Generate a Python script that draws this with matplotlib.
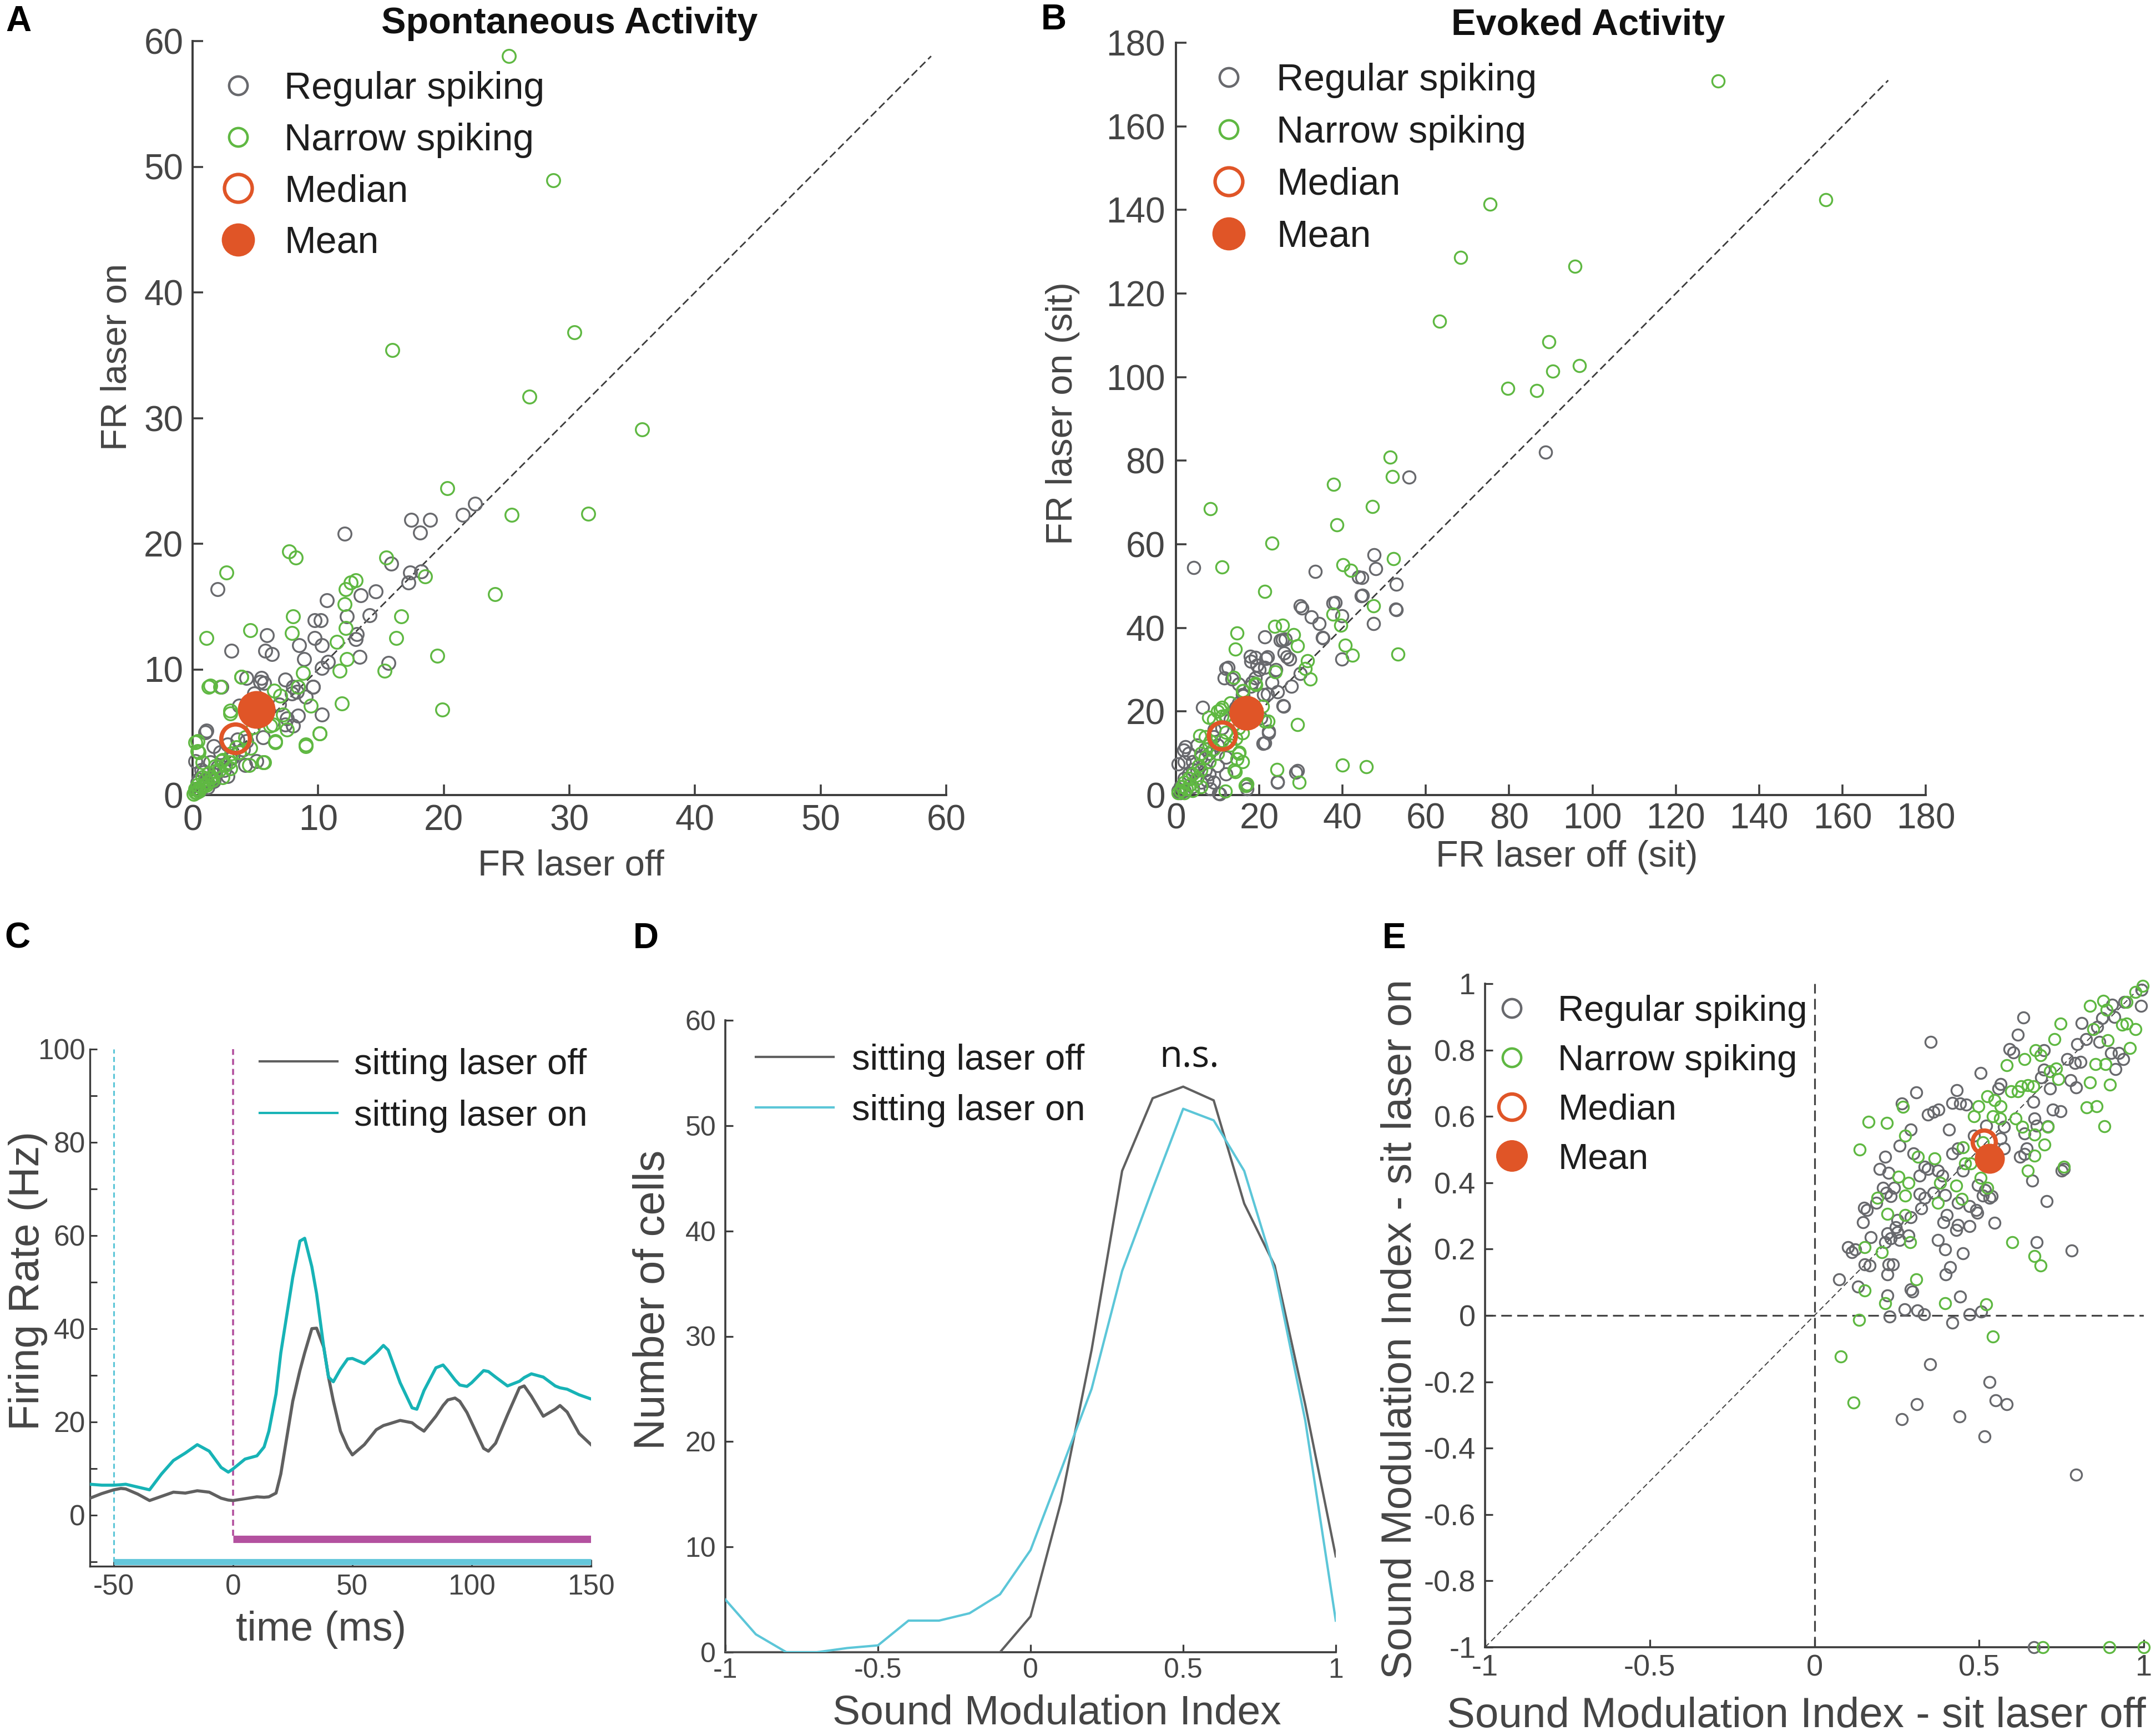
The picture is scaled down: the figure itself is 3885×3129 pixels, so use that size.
import numpy as np
import matplotlib
matplotlib.use("Agg")
import matplotlib.pyplot as plt
from matplotlib.lines import Line2D
from matplotlib.ticker import FuncFormatter

W, H = 3885, 3129

# --- A: spontaneous activity (laser off, laser on) ---
spont_rs = [(12.1, 20.8), (2.0, 16.4), (3.1, 11.5), (17.4, 21.9), (18.9, 21.9), (18.1, 20.9), (21.5, 22.3),
            (22.5, 23.2), (15.8, 18.4), (17.3, 17.7), (17.2, 16.9), (18.2, 17.8), (10.7, 15.5), (13.4, 15.9),
            (14.6, 16.2), (12.3, 14.2), (14.1, 14.3), (15.6, 10.5), (9.7, 13.9), (10.2, 13.9), (5.9, 12.7),
            (5.8, 11.5), (6.3, 11.2), (8.5, 11.9), (9.7, 12.5), (10.3, 11.9), (13.0, 12.4), (13.1, 12.8),
            (13.3, 11.0), (10.8, 10.6), (9.6, 8.6), (10.3, 10.1), (8.9, 10.8), (7.9, 8.1), (7.4, 9.2),
            (5.4, 9.0), (4.9, 8.1), (1.0, 5.0), (6.9, 7.2), (8.4, 6.3), (10.3, 6.4), (4.3, 4.3), (3.7, 7.1),
            (7.4, 5.6), (1.1, 5.1), (2.3, 8.6), (4.3, 9.3), (5.5, 9.3), (5.7, 8.9), (8.0, 8.6), (8.3, 8.2),
            (9.6, 8.6), (9.0, 7.8), (8.0, 5.5), (7.5, 6.1), (5.6, 4.6), (5.1, 2.7), (4.2, 2.4), (3.0, 2.9),
            (1.7, 3.9), (0.2, 2.7), (0.9, 1.8), (2.8, 1.5), (1.7, 1.1), (0.5, 1.25), (0.3, 0.5), (0.6, 0.4),
            (1.0, 1.2), (1.5, 1.3), (2.0, 2.2), (2.5, 2.0), (0.4, 1.0), (1.2, 0.6), (1.8, 1.6), (2.2, 3.4),
            (3.2, 3.0), (3.6, 4.4), (4.0, 3.6), (2.8, 4.0), (1.4, 2.6), (0.7, 2.0)]
spont_ns = [(25.2, 58.8), (28.7, 48.9), (30.4, 36.8), (15.9, 35.4), (26.8, 31.7), (35.8, 29.1), (20.3, 24.4),
            (25.4, 22.3), (31.5, 22.4), (24.1, 16.0), (19.5, 11.1), (19.9, 6.8), (15.4, 18.9), (18.5, 17.4),
            (16.6, 14.2), (16.2, 12.5), (15.3, 9.9), (11.7, 9.9), (11.9, 7.3), (10.1, 4.9), (9.0, 3.9),
            (7.7, 19.4), (8.2, 18.9), (2.7, 17.7), (1.1, 12.5), (4.6, 13.1), (8.0, 14.2), (7.9, 12.9),
            (1.3, 8.6), (2.2, 8.6), (3.9, 9.4), (12.2, 16.4), (12.6, 16.9), (13.0, 17.1), (12.1, 15.2),
            (12.2, 13.3), (12.3, 10.8), (11.5, 12.2), (8.8, 9.7), (8.4, 8.6), (6.4, 5.6), (5.7, 2.6),
            (0.2, 4.2), (0.5, 3.4), (3.0, 6.5), (4.8, 5.4), (6.6, 4.2), (1.4, 8.7), (3.9, 9.4), (0.4, 4.3),
            (0.4, 3.5), (3.0, 6.7), (5.6, 2.6), (6.6, 4.3), (7.5, 5.2), (9.0, 4.0), (10.1, 4.9), (9.4, 7.1),
            (7.0, 7.9), (6.5, 8.3), (4.5, 2.4), (3.7, 3.4), (2.4, 1.4), (0.8, 2.6), (1.8, 2.3), (3.0, 2.1),
            (0.5, 0.5), (0.2, 0.2), (1.1, 0.8), (0.8, 1.4), (2.3, 2.7), (5.5, 6.1), (6.2, 5.5), (7.2, 6.4),
            (4.6, 3.75), (0.1, 0.1), (0.3, 0.2), (0.5, 0.3), (0.7, 0.6), (0.9, 0.8), (1.2, 1.0), (1.5, 1.4),
            (1.8, 1.9), (2.1, 2.0), (2.6, 2.4), (0.2, 0.5), (0.4, 0.8), (1.0, 1.3), (1.6, 1.2), (2.4, 2.8),
            (3.1, 3.3), (3.5, 3.8), (4.2, 4.6), (2.9, 2.6), (1.3, 1.7)]
spont_median = (3.4, 4.5)
spont_mean = (5.1, 6.8)
spont_diag_max = 58.8

# --- B: evoked activity (sit, laser off / on) ---
evoked_rs = [(88.7, 82.0), (55.9, 76.1), (4.3, 54.4), (33.5, 53.5), (47.6, 57.5), (47.9, 54.1), (44.6, 52.1),
             (52.9, 50.5), (44.8, 47.8), (52.9, 44.4), (47.4, 41.0), (29.9, 45.3), (30.3, 44.7), (32.5, 42.6),
             (34.4, 41.0), (38.2, 46.0), (39.9, 42.9), (39.8, 32.5), (35.3, 37.6), (21.3, 37.8), (25.6, 37.2),
             (27.3, 32.5), (29.9, 29.1), (27.7, 26.0), (25.9, 21.2), (22.3, 15.3), (21.3, 12.5), (29.2, 5.8),
             (24.4, 3.1), (6.4, 21.0), (17.0, 1.4), (10.5, 0.3), (12.5, 30.5), (13.5, 27.7), (17.8, 33.2),
             (19.5, 31.1), (21.3, 30.5), (16.1, 23.7), (14.4, 21.0), (2.2, 11.5), (0.5, 7.4), (4.0, 6.1),
             (7.4, 3.4), (9.2, 15.6), (8.3, 1.4), (37.7, 45.9), (43.8, 52.2), (44.5, 47.7), (52.7, 44.5),
             (35.2, 37.7), (26.2, 37.3), (26.6, 33.1), (21.6, 32.6), (19.1, 32.9), (12.0, 30.3), (11.6, 28.0),
             (15.1, 26.5), (18.2, 27.0), (22.0, 24.2), (24.4, 24.7), (25.7, 21.4), (20.4, 18.4), (22.2, 14.9),
             (20.9, 12.3), (1.9, 10.7), (28.8, 5.5), (24.4, 3.2), (16.9, 2.3), (10.3, 0.4), (1, 2), (2, 4),
             (3, 5), (4, 8), (5, 6), (6, 9), (7, 11), (8, 10), (9, 14), (10, 12), (11, 16), (3, 10), (2, 8),
             (5, 12), (6, 3), (8, 5), (10, 7), (12, 9), (13, 18), (14, 20), (15, 22), (16, 24), (18, 26),
             (19, 28), (20, 30), (22, 33), (23, 27), (17, 19), (21, 24), (24, 30), (26, 34), (25, 37), (18, 32),
             (4, 2), (1, 0.5), (0.5, 1), (2, 1), (7, 6), (9, 3), (12, 5)]
evoked_ns = [(130.2, 170.9), (156.0, 142.5), (75.4, 141.4), (68.3, 128.6), (95.8, 126.5), (63.3, 113.3),
             (89.6, 108.5), (90.4, 101.4), (96.8, 102.7), (79.7, 97.3), (86.6, 96.8), (51.4, 80.8), (52.0, 76.2),
             (37.9, 74.4), (8.3, 68.5), (47.2, 69.0), (38.7, 64.7), (23.0, 60.2), (11.1, 54.5), (52.2, 56.6),
             (40.1, 55.1), (42.0, 53.7), (21.3, 48.7), (14.7, 38.7), (14.3, 34.9), (47.4, 45.3), (37.7, 43.3),
             (39.6, 40.6), (40.6, 35.9), (42.4, 33.4), (53.3, 33.7), (23.7, 40.3), (25.6, 40.6), (28.2, 38.3),
             (29.2, 35.7), (31.6, 32.1), (32.2, 27.7), (23.9, 29.5), (29.2, 16.9), (24.2, 6.1), (29.6, 3.0),
             (40.0, 7.2), (45.7, 6.8), (11.8, 0.9), (17.0, 2.7), (15.2, 10.2), (14.4, 13.5), (8.3, 12.9),
             (5.7, 14.2), (11.0, 18.9), (16.1, 25.0), (19.2, 26.4), (20.8, 21.2), (22.1, 17.6), (13.8, 28.1),
             (19.1, 26.7), (16.0, 24.9), (21.3, 17.6), (16.0, 14.9), (7.8, 18.6), (10.6, 20.5), (14.3, 5.6),
             (14.7, 8.6), (16.7, 2.3), (31.0, 30.2), (0.5, 0.5), (1, 1), (1.5, 2), (2, 3), (2.5, 1.5), (3, 4),
             (3.5, 2.5), (4, 5), (5, 4), (5.5, 7), (6, 6), (7, 9), (8, 8), (9, 11), (10, 10), (11, 13), (12, 15),
             (13, 12), (14, 17), (15, 16), (16, 19), (9, 18), (10, 20), (11, 21), (7, 14), (8, 12), (6, 10),
             (12, 19), (13, 22), (15, 10), (16, 8), (14, 6), (4, 1), (6, 2), (2, 0.5)]
evoked_median = (11.1, 14.2)
evoked_mean = (16.9, 19.6)
evoked_diag_max = 171.0

# --- C: PSTH, sitting ---
psth_time = [-60, -55, -50, -47, -45, -40, -35, -30, -25, -20, -15, -10, -5, -2, 0, 5, 10, 13, 15, 18, 20, 25,
             28, 30, 33, 35, 38, 40, 42, 45, 48, 50, 55, 60, 63, 65, 70, 75, 77, 80, 85, 88, 90, 93, 95, 98,
             100, 105, 107, 110, 115, 120, 122, 125, 130, 135, 137, 140, 145, 150]
psth_laser_off = [3.6, 4.6, 5.4, 5.7, 5.6, 4.5, 3.1, 4.0, 4.9, 4.7, 5.2, 4.9, 3.6, 3.2, 3.1, 3.5, 3.9, 3.8,
                  3.9, 4.7, 8.8, 24.4, 31.0, 34.8, 40.0, 40.1, 36.0, 29.6, 24.5, 18.0, 14.5, 12.9, 15.1, 18.3,
                  19.2, 19.5, 20.3, 19.8, 19.0, 18.0, 21.2, 23.5, 24.7, 25.1, 24.4, 22.0, 19.8, 14.3, 13.7,
                  15.4, 21.5, 27.3, 27.7, 25.5, 21.2, 22.7, 23.5, 22.1, 17.5, 15.1]
psth_laser_on = [6.6, 6.4, 6.4, 6.5, 6.6, 6.0, 5.4, 8.8, 11.7, 13.3, 15.1, 13.7, 10.2, 9.2, 9.9, 12.0, 12.7,
                 14.6, 18.0, 26.0, 34.8, 51.0, 58.8, 59.4, 53.3, 47.5, 36.0, 29.6, 28.6, 31.3, 33.5, 33.6,
                 32.5, 34.8, 36.4, 35.4, 28.4, 23.0, 22.7, 26.7, 31.6, 32.2, 31.0, 29.0, 27.9, 27.6, 28.4,
                 31.0, 30.8, 29.6, 27.7, 28.7, 29.5, 30.3, 29.6, 27.7, 27.3, 27.0, 25.8, 24.9]
laser_onset = -50
sound_onset = 0

# --- D: sound modulation index histogram ---
smi_bins = [-1.0, -0.9, -0.8, -0.7, -0.6, -0.5, -0.4, -0.3, -0.2, -0.1, 0.0, 0.1, 0.2, 0.3, 0.4, 0.5, 0.6,
            0.7, 0.8, 0.9, 1.0]
smi_count_off = [0, 0, 0, 0, 0, 0, 0, 0, 0, 0, 3.4, 14.3, 28.7, 45.7, 52.6, 53.7, 52.4, 42.6, 36.7, 23.5, 9.1]
smi_count_on = [5.0, 1.7, 0, 0, 0.4, 0.65, 3.0, 3.0, 3.7, 5.5, 9.7, 17.3, 25.0, 36.2, 44.0, 51.6, 50.5, 45.7,
                36.2, 22.0, 3.0]

# --- E: sound modulation index, laser off vs on ---
smi_rs = [(0.634, 0.898), (0.617, 0.846), (0.353, 0.824), (0.505, 0.731), (0.310, 0.672), (0.433, 0.679),
          (0.266, 0.639), (0.344, 0.605), (0.361, 0.613), (0.377, 0.620), (0.419, 0.640), (0.443, 0.639),
          (0.460, 0.635), (0.593, 0.803), (0.604, 0.792), (0.696, 0.799), (0.812, 0.881), (0.859, 0.870),
          (0.904, 0.937), (0.941, 0.944), (0.992, 0.933), (0.993, 0.981), (0.911, 0.899), (0.873, 0.896),
          (0.798, 0.817), (0.825, 0.832), (0.866, 0.825), (0.767, 0.772), (0.791, 0.761), (0.808, 0.765),
          (0.900, 0.791), (0.924, 0.791), (0.938, 0.772), (0.914, 0.743), (0.778, 0.709), (0.795, 0.687),
          (0.716, 0.684), (0.689, 0.717), (0.696, 0.740), (0.723, 0.620), (0.747, 0.616), (0.664, 0.643),
          (0.668, 0.594), (0.675, 0.572), (0.638, 0.549), (0.645, 0.504), (0.638, 0.486), (0.624, 0.478),
          (0.575, 0.568), (0.566, 0.534), (0.575, 0.504), (0.559, 0.684), (0.566, 0.698), (0.522, 0.572),
          (0.484, 0.542), (0.436, 0.504), (0.419, 0.489), (0.409, 0.560), (0.450, 0.437), (0.497, 0.393),
          (0.518, 0.378), (0.539, 0.359), (0.662, 0.407), (0.705, 0.344), (0.750, 0.437), (0.546, 0.280),
          (0.675, 0.221), (0.781, 0.195), (0.334, 0.448), (0.344, 0.441), (0.375, 0.437), (0.388, 0.422),
          (0.320, 0.422), (0.198, 0.441), (0.225, 0.430), (0.214, 0.478), (0.258, 0.512), (0.293, 0.560),
          (0.300, 0.489), (0.242, 0.385), (0.232, 0.359), (0.218, 0.370), (0.320, 0.366), (0.334, 0.355),
          (0.324, 0.322), (0.361, 0.370), (0.396, 0.363), (0.436, 0.340), (0.471, 0.329), (0.491, 0.318),
          (0.494, 0.310), (0.402, 0.303), (0.392, 0.281), (0.436, 0.273), (0.471, 0.269), (0.430, 0.258),
          (0.375, 0.228), (0.396, 0.199), (0.450, 0.187), (0.412, 0.146), (0.399, 0.124), (0.293, 0.296),
          (0.252, 0.288), (0.246, 0.266), (0.252, 0.251), (0.232, 0.232), (0.222, 0.247), (0.286, 0.240),
          (0.259, 0.228), (0.215, 0.221), (0.171, 0.236), (0.160, 0.318), (0.150, 0.325), (0.147, 0.281),
          (0.123, 0.199), (0.102, 0.206), (0.113, 0.191), (0.153, 0.154), (0.167, 0.150), (0.075, 0.109),
          (0.132, 0.087), (0.222, 0.124), (0.225, 0.154), (0.239, 0.154), (0.297, 0.072), (0.293, 0.079),
          (0.222, 0.060), (0.273, 0.019), (0.313, 0.015), (0.333, 0.004), (0.228, -0.003), (0.419, -0.022),
          (0.443, 0.057), (0.471, 0.004), (0.507, 0.011), (0.188, 0.340), (0.208, 0.385), (0.512, 0.362),
          (0.532, 0.354), (0.757, 0.441), (0.709, 0.571), (0.352, -0.147), (0.531, -0.200), (0.550, -0.256),
          (0.584, -0.267), (0.311, -0.267), (0.265, -0.313), (0.440, -0.305), (0.516, -0.364),
          (0.795, -0.480), (0.666, -1.0)]
smi_ns = [(0.997, 0.993), (0.974, 0.975), (0.836, 0.933), (0.877, 0.948), (0.887, 0.922), (0.948, 0.944),
          (0.747, 0.879), (0.728, 0.832), (0.934, 0.877), (0.948, 0.880), (0.974, 0.863), (0.846, 0.863),
          (0.890, 0.829), (0.958, 0.806), (0.853, 0.757), (0.883, 0.757), (0.836, 0.702), (0.897, 0.696),
          (0.827, 0.627), (0.856, 0.631), (0.880, 0.571), (0.583, 0.754), (0.638, 0.772), (0.672, 0.799),
          (0.686, 0.784), (0.716, 0.736), (0.733, 0.744), (0.740, 0.713), (0.628, 0.690), (0.648, 0.694),
          (0.665, 0.690), (0.597, 0.675), (0.617, 0.675), (0.525, 0.661), (0.546, 0.649), (0.498, 0.631),
          (0.566, 0.631), (0.484, 0.601), (0.542, 0.601), (0.563, 0.593), (0.610, 0.593), (0.631, 0.568),
          (0.668, 0.545), (0.709, 0.568), (0.699, 0.515), (0.668, 0.481), (0.648, 0.437), (0.757, 0.448),
          (0.269, 0.628), (0.164, 0.584), (0.220, 0.581), (0.138, 0.500), (0.276, 0.541), (0.314, 0.478),
          (0.365, 0.474), (0.256, 0.418), (0.286, 0.399), (0.276, 0.362), (0.191, 0.354), (0.222, 0.306),
          (0.276, 0.302), (0.375, 0.340), (0.382, 0.399), (0.430, 0.392), (0.447, 0.351), (0.457, 0.459),
          (0.450, 0.507), (0.474, 0.459), (0.505, 0.414), (0.525, 0.385), (0.512, 0.522), (0.290, 0.221),
          (0.205, 0.190), (0.153, 0.206), (0.153, 0.075), (0.215, 0.037), (0.310, 0.109), (0.396, 0.037),
          (0.522, 0.034), (0.136, -0.013), (0.542, -0.063), (0.600, 0.220), (0.668, 0.179), (0.686, 0.150),
          (0.080, -0.124), (0.119, -0.262), (0.694, -1.0), (0.896, -1.0), (1.0, -1.0)]
smi_median = (0.515, 0.523)
smi_mean = (0.532, 0.474)

# --- colours ---
GRAY_PT = "#68696d"
GREEN_PT = "#5fb842"
ORANGE = "#e05527"
AXC = "#3c3c3c"
TXT = "#454545"
LINE_GRAY = "#606060"
TEAL = "#17b3b6"
LIGHT_BLUE = "#5cc6d8"
MAGENTA = "#b3519f"
BAR_CYAN = "#64c7db"

plt.rcParams["font.family"] = ["Liberation Sans", "DejaVu Sans"]
plt.rcParams["axes.unicode_minus"] = False

fig = plt.figure(figsize=(W / 100, H / 100), dpi=100)


def px_axes(l, t, r, b):
    return fig.add_axes([l / W, 1 - b / H, (r - l) / W, (b - t) / H])


def style(ax, size, tick_len, pad_x, pad_y, lw=2.8):
    for s in ["top", "right"]:
        ax.spines[s].set_visible(False)
    for s in ["left", "bottom"]:
        ax.spines[s].set_linewidth(lw)
        ax.spines[s].set_color(AXC)
    ax.tick_params(direction="in", length=tick_len, width=lw * 0.9, colors=AXC,
                   labelsize=size, labelcolor=TXT)
    ax.tick_params(axis="x", pad=pad_x)
    ax.tick_params(axis="y", pad=pad_y)


def xlabel_px(ax, text, x, y, size):
    ax.set_xlabel(text, fontsize=size, color=TXT)
    ax.xaxis.set_label_coords(x / W, 1 - y / H, transform=fig.transFigure)
    ax.xaxis.label.set_va("center")


def ylabel_px(ax, text, x, y, size):
    ax.set_ylabel(text, fontsize=size, color=TXT)
    ax.yaxis.set_label_coords(x / W, 1 - y / H, transform=fig.transFigure)
    ax.yaxis.label.set_va("center")
    ax.yaxis.label.set_ha("center")


def scatter_panel(ax, rs, ns, median, mean, ms, ms_med, ms_mean):
    rx, ry = zip(*rs)
    nx, ny = zip(*ns)
    ax.plot(rx, ry, ls="none", marker="o", ms=ms, mfc="none", mec=GRAY_PT, mew=2.4, clip_on=False, zorder=3)
    ax.plot(nx, ny, ls="none", marker="o", ms=ms, mfc="none", mec=GREEN_PT, mew=2.4, clip_on=False, zorder=4)
    ax.plot([median[0]], [median[1]], ls="none", marker="o", ms=ms_med, mfc="none", mec=ORANGE, mew=5.5,
            zorder=5)
    ax.plot([mean[0]], [mean[1]], ls="none", marker="o", ms=ms_mean, mfc=ORANGE, mec=ORANGE, zorder=6)


def scatter_legend(ax, x, y, size, ms_small, ms_med, ms_mean, spacing, textpad):
    handles = [
        Line2D([], [], ls="none", marker="o", ms=ms_small, mfc="none", mec=GRAY_PT, mew=3.2),
        Line2D([], [], ls="none", marker="o", ms=ms_small, mfc="none", mec=GREEN_PT, mew=3.2),
        Line2D([], [], ls="none", marker="o", ms=ms_med, mfc="none", mec=ORANGE, mew=4.5),
        Line2D([], [], ls="none", marker="o", ms=ms_mean, mfc=ORANGE, mec=ORANGE),
    ]
    labels = ["Regular spiking", "Narrow spiking", "Median", "Mean"]
    leg = ax.legend(handles, labels, loc="upper left", bbox_to_anchor=(x / W, 1 - y / H),
                    bbox_transform=fig.transFigure, frameon=False, fontsize=size, borderpad=0,
                    borderaxespad=0, handlelength=1.0, handletextpad=textpad, labelspacing=spacing)
    for t in leg.get_texts():
        t.set_color("#1e1e1e")
    return leg


tick_fmt = FuncFormatter(lambda v, p: "%g" % (round(v, 2) + 0.0))

# ---------------- A ----------------
axA = px_axes(347, 74, 1705, 1433)
style(axA, 46, 14, 12, 12)
axA.plot([0, spont_diag_max], [0, spont_diag_max], ls=(0, (5, 2.5)), lw=2.0, color="#3c3c3c", zorder=2)
scatter_panel(axA, spont_rs, spont_ns, spont_median, spont_mean, 17, 37, 48)
axA.set_xlim(0, 60)
axA.set_ylim(0, 60)
axA.set_xticks(range(0, 61, 10))
axA.set_yticks(range(0, 61, 10))
axA.set_title("Spontaneous Activity", fontsize=48, fontweight="bold", color="#111111", pad=10)
xlabel_px(axA, "FR laser off", 1029, 1561, 47)
ylabel_px(axA, "FR laser on", 210, 643, 47)
scatter_legend(axA, 395, 128, 49, 24, 36, 42, 0.42, 0.72)

# ---------------- B ----------------
axB = px_axes(2119, 77, 3470, 1433)
style(axB, 46, 14, 10, 14)
axB.plot([0, evoked_diag_max], [0, evoked_diag_max], ls=(0, (5, 2.5)), lw=2.0, color="#3c3c3c", zorder=2)
scatter_panel(axB, evoked_rs, evoked_ns, evoked_median, evoked_mean, 16, 35, 44)
axB.set_xlim(0, 180)
axB.set_ylim(0, 180)
axB.set_xticks(range(0, 181, 20))
axB.set_yticks(range(0, 181, 20))
axB.set_title("Evoked Activity", fontsize=48, fontweight="bold", color="#111111", pad=10, x=0.55)
xlabel_px(axB, "FR laser off (sit)", 2823, 1545, 48)
ylabel_px(axB, "FR laser on (sit)", 1915, 745, 48)
scatter_legend(axB, 2180, 113, 49, 24, 36, 42, 0.44, 0.77)

# ---------------- C ----------------
axC = px_axes(162, 1891, 1065, 2823)
style(axC, 37, 9, 10, 6, lw=2.4)
axC.plot(psth_time, psth_laser_off, color=LINE_GRAY, lw=4, label="sitting laser off", zorder=3)
axC.plot(psth_time, psth_laser_on, color=TEAL, lw=4, label="sitting laser on", zorder=3)
axC.plot([laser_onset, laser_onset], [-10, 100], ls=(0, (3, 2)), lw=2.2, color=LIGHT_BLUE, zorder=2)
axC.plot([sound_onset, sound_onset], [-4.5, 100], ls=(0, (3, 2)), lw=2.6, color=MAGENTA, zorder=2)
axC.plot([sound_onset, 150], [-5.2, -5.2], lw=9.5, color=MAGENTA, solid_capstyle="butt", zorder=2)
axC.plot([laser_onset, 150], [-10, -10], lw=8, color=BAR_CYAN, solid_capstyle="butt", zorder=2,
         clip_on=False)
axC.set_xlim(-60, 150)
axC.set_ylim(-11, 100)
axC.set_xticks([-50, 0, 50, 100, 150])
axC.set_yticks(range(-10, 101, 10))
axC.yaxis.set_major_formatter(FuncFormatter(lambda v, p: "%d" % v if v >= 0 and int(round(v)) % 20 == 0 else ""))
xlabel_px(axC, "time (ms)", 579, 2937, 53)
ylabel_px(axC, "Firing Rate (Hz)", 51, 2308, 55)
legC = axC.legend(loc="upper left", bbox_to_anchor=(468 / W, 1 - 1889 / H), bbox_transform=fig.transFigure,
                  frameon=False, fontsize=47, borderpad=0, borderaxespad=0, handlelength=2.15,
                  handletextpad=0.46, labelspacing=0.5)
for t in legC.get_texts():
    t.set_color("#1e1e1e")
for l in legC.get_lines():
    l.set_linewidth(3)

# ---------------- D ----------------
axD = px_axes(1307, 1839, 2407, 2978)
style(axD, 36, 10, 7, 12, lw=2.6)
axD.plot(smi_bins, smi_count_off, color=LINE_GRAY, lw=3, label="sitting laser off", zorder=3)
axD.plot(smi_bins, smi_count_on, color=LIGHT_BLUE, lw=3, label="sitting laser on", zorder=3)
axD.set_xlim(-1, 1)
axD.set_ylim(0, 60)
axD.set_xticks([-1, -0.5, 0, 0.5, 1])
axD.set_yticks(range(0, 61, 10))
axD.xaxis.set_major_formatter(tick_fmt)
axD.text(0.52, 56.5, "n.s.", fontsize=48, family=["Open Sans", "DejaVu Sans"], color="#1a1a1a",
         ha="center", va="center")
xlabel_px(axD, "Sound Modulation Index", 1904, 3088, 54)
ylabel_px(axD, "Number of cells", 1176, 2343, 56)
legD = axD.legend(loc="upper left", bbox_to_anchor=(1362 / W, 1 - 1881 / H), bbox_transform=fig.transFigure,
                  frameon=False, fontsize=47, borderpad=0, borderaxespad=0, handlelength=2.15,
                  handletextpad=0.5, labelspacing=0.47)
for t in legD.get_texts():
    t.set_color("#1e1e1e")

# ---------------- E ----------------
axE = px_axes(2676, 1773, 3863, 2969)
style(axE, 39, 10, 9, 12, lw=2.6)
axE.axvline(0, ls=(0, (6, 3)), lw=2.3, color="#444444", zorder=1)
axE.axhline(0, ls=(0, (6, 3)), lw=2.3, color="#444444", zorder=1)
axE.plot([-1, 1], [-1, 1], ls=(0, (5, 3)), lw=1.4, color="#444444", zorder=2)
scatter_panel(axE, smi_rs, smi_ns, smi_median, smi_mean, 14.5, 30, 38)
axE.set_xlim(-1, 1)
axE.set_ylim(-1, 1)
axE.set_xticks([-1, -0.5, 0, 0.5, 1])
axE.set_yticks(np.round(np.arange(-1, 1.01, 0.2), 1))
axE.xaxis.set_major_formatter(tick_fmt)
axE.yaxis.set_major_formatter(tick_fmt)
xlabel_px(axE, "Sound Modulation Index - sit laser off", 3237, 3093, 55)
ylabel_px(axE, "Sound Modulation Index - sit laser on", 2523, 2395, 55)
scatter_legend(axE, 2691, 1793, 47, 24, 34, 40, 0.44, 0.78)

# panel letters
for letter, (x, y) in {"A": (33, 39), "B": (1899, 36), "C": (31, 1692), "D": (1164, 1692),
                       "E": (2512, 1692)}.items():
    fig.text(x / W, 1 - y / H, letter, fontsize=46, fontweight="bold", ha="center", va="center",
             color="#000000")

fig.savefig("out.png", dpi=100, facecolor="white")
